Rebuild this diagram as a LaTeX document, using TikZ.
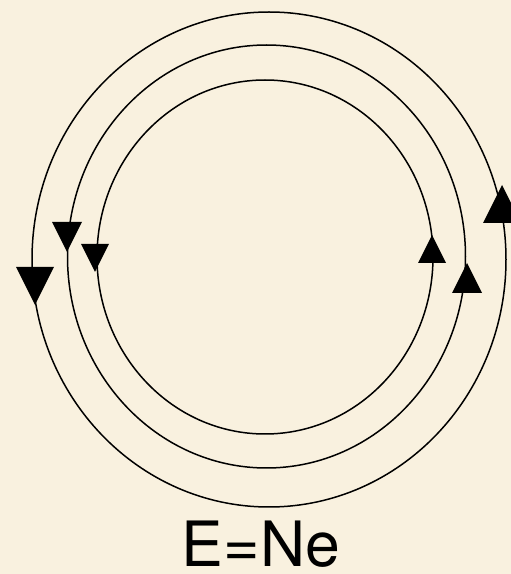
\documentclass[tikz,border=0pt]{standalone}
\usepackage{fontspec}
\setmainfont{TeX Gyre Heros}
\definecolor{paper}{RGB}{249,241,223}
\tikzset{
  orbit/.style={draw=black, line width=1.5pt},
  tiphead/.style={fill=black},
  caption/.style={anchor=base, inner sep=0pt, font=\fontsize{62.5}{70}\selectfont}
}

\begin{document}
\begin{tikzpicture}[x=1pt,y=1pt]
  \fill[paper] (0,0) rectangle (511,574);
  \useasboundingbox (0,0) rectangle (511,574);
  % centre / radii / tip going down (left) / tip going up (right) / tip size
  \foreach \cx/\cy/\rx/\ry/\dx/\dy/\ux/\uy/\tip in {269/314.5/237/247.5/35/269/502/389/38,
                                                    266.5/317.5/199/211.5/67/322/467/311/30,
                                                    265/317/168/177/95/302/432/339/28}{
    \draw[orbit] (\cx,\cy) ellipse[x radius=\rx pt, y radius=\ry pt];
    \fill[tiphead] (\dx,\dy) -- ++(-\tip/2,\tip) -- ++(\tip,0) -- cycle;
    \fill[tiphead] (\ux,\uy) -- ++(-\tip/2,-\tip) -- ++(\tip,0) -- cycle;
  }
  \node[caption] (label) at (261,7) {E=Ne};
\end{tikzpicture}
\end{document}
